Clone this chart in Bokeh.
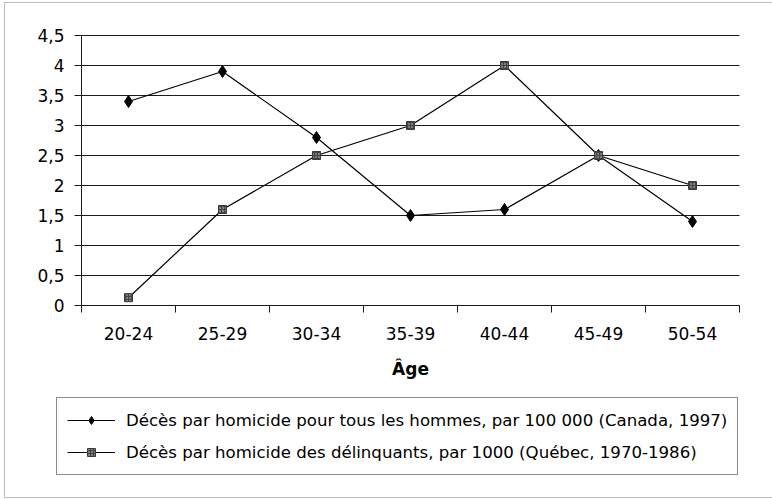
from bokeh.plotting import figure
from bokeh.models import Range1d, FixedTicker, Legend, LegendItem, BoxAnnotation
from bokeh.core.properties import value
from bokeh.embed import file_html
from bokeh.resources import INLINE

categories = ["20-24", "25-29", "30-34", "35-39", "40-44", "45-49", "50-54"]
canada = [3.4, 3.9, 2.8, 1.5, 1.6, 2.5, 1.4]
quebec = [0.13, 1.6, 2.5, 3.0, 4.0, 2.5, 2.0]
y_ticks = [0, 0.5, 1, 1.5, 2, 2.5, 3, 3.5, 4, 4.5]
y_tick_labels = ["0", "0,5", "1", "1,5", "2", "2,5", "3", "3,5", "4", "4,5"]
label_canada = "Décès par homicide pour tous les hommes, par 100 000 (Canada, 1997)"
label_quebec = "Décès par homicide des délinquants, par 1000 (Québec, 1970-1986)"
x_title = "Âge"

FONT = "DejaVu Sans"
W, H = 772, 499
# plot area in pixels (left, right, top, bottom)
PL, PR, PT, PB = 81, 739, 35, 305
ncat = len(categories)
ymax = y_ticks[-1]
sx = (PR - PL) / ncat          # px per category
sy = (PB - PT) / ymax          # px per unit
x_range = Range1d(-PL / sx, (W - PL) / sx)
y_range = Range1d(-(H - PB) / sy, ymax + PT / sy)

x = [i + 0.5 for i in range(ncat)]

p = figure(width=W, height=H, x_range=x_range, y_range=y_range,
           output_backend="svg", toolbar_location=None,
           min_border_left=0, min_border_right=0, min_border_top=0, min_border_bottom=0)
p.outline_line_color = None
p.background_fill_color = "white"
p.border_fill_color = "white"
p.xgrid.visible = False
p.ygrid.visible = False

# outer frame of the figure
p.add_layout(BoxAnnotation(left=x_range.start + 4 / sx, right=x_range.end + 1,
                           top=y_range.end - 2 / sy, bottom=y_range.start + 2 / sy,
                           fill_alpha=0, line_color="#222222", line_width=1))

# horizontal grid lines
p.segment(x0=[0] * len(y_ticks), x1=[ncat] * len(y_ticks), y0=y_ticks, y1=y_ticks,
          line_color="#1a1a1a", line_width=1)

yax = p.yaxis[0]
yax.fixed_location = 0
yax.bounds = (0, ymax)
yax.ticker = FixedTicker(ticks=y_ticks)
yax.major_label_overrides = {t: l for t, l in zip(y_ticks, y_tick_labels)}
yax.major_tick_out = 7
yax.major_tick_in = 0
yax.minor_tick_out = 0
yax.minor_tick_in = 0
yax.major_label_standoff = 10
yax.axis_line_color = "#1a1a1a"
yax.major_tick_line_color = "#1a1a1a"

xax = p.xaxis[0]
xax.fixed_location = 0
xax.bounds = (0, ncat)
xax.ticker = FixedTicker(ticks=x, minor_ticks=list(range(ncat + 1)))
xax.major_label_overrides = {xi: c for xi, c in zip(x, categories)}
xax.major_tick_out = 0
xax.major_tick_in = 0
xax.minor_tick_out = 7
xax.minor_tick_in = 0
xax.major_label_standoff = 14
xax.axis_label = x_title
xax.axis_label_text_font_style = "bold"
xax.axis_label_standoff = 16
xax.axis_line_color = "#1a1a1a"
xax.minor_tick_line_color = "#1a1a1a"

for ax in (xax, yax):
    ax.major_label_text_font = FONT
    ax.major_label_text_font_size = "17px"
    ax.major_label_text_color = "black"
    ax.axis_label_text_font = FONT
    ax.axis_label_text_font_size = "17px"
    ax.axis_label_text_color = "black"

l1 = p.line(x, canada, line_color="black", line_width=1.2)
s1 = p.scatter(x, canada, marker="diamond", size=12, fill_color="black", line_color="black")
l2 = p.line(x, quebec, line_color="black", line_width=1.2)
s2 = p.scatter(x, quebec, marker="square", size=8, fill_color="#7d7d7d", line_color="#3a3a3a",
               hatch_pattern="cross", hatch_color="#444444", hatch_scale=3, hatch_weight=1)

legend = Legend(items=[LegendItem(label=value(label_canada), renderers=[l1, s1]),
                       LegendItem(label=value(label_quebec), renderers=[l2, s2])],
                location=(56, H - 475), orientation="vertical",
                glyph_width=48, glyph_height=20, label_height=24, spacing=8,
                padding=10, margin=0, label_standoff=11,
                border_line_color="#1a1a1a", border_line_width=1,
                background_fill_color="white", background_fill_alpha=1,
                label_text_font=FONT, label_text_font_size="16.6px", label_text_color="black")
p.add_layout(legend)

open("out.html", "w").write(file_html(p, INLINE))
